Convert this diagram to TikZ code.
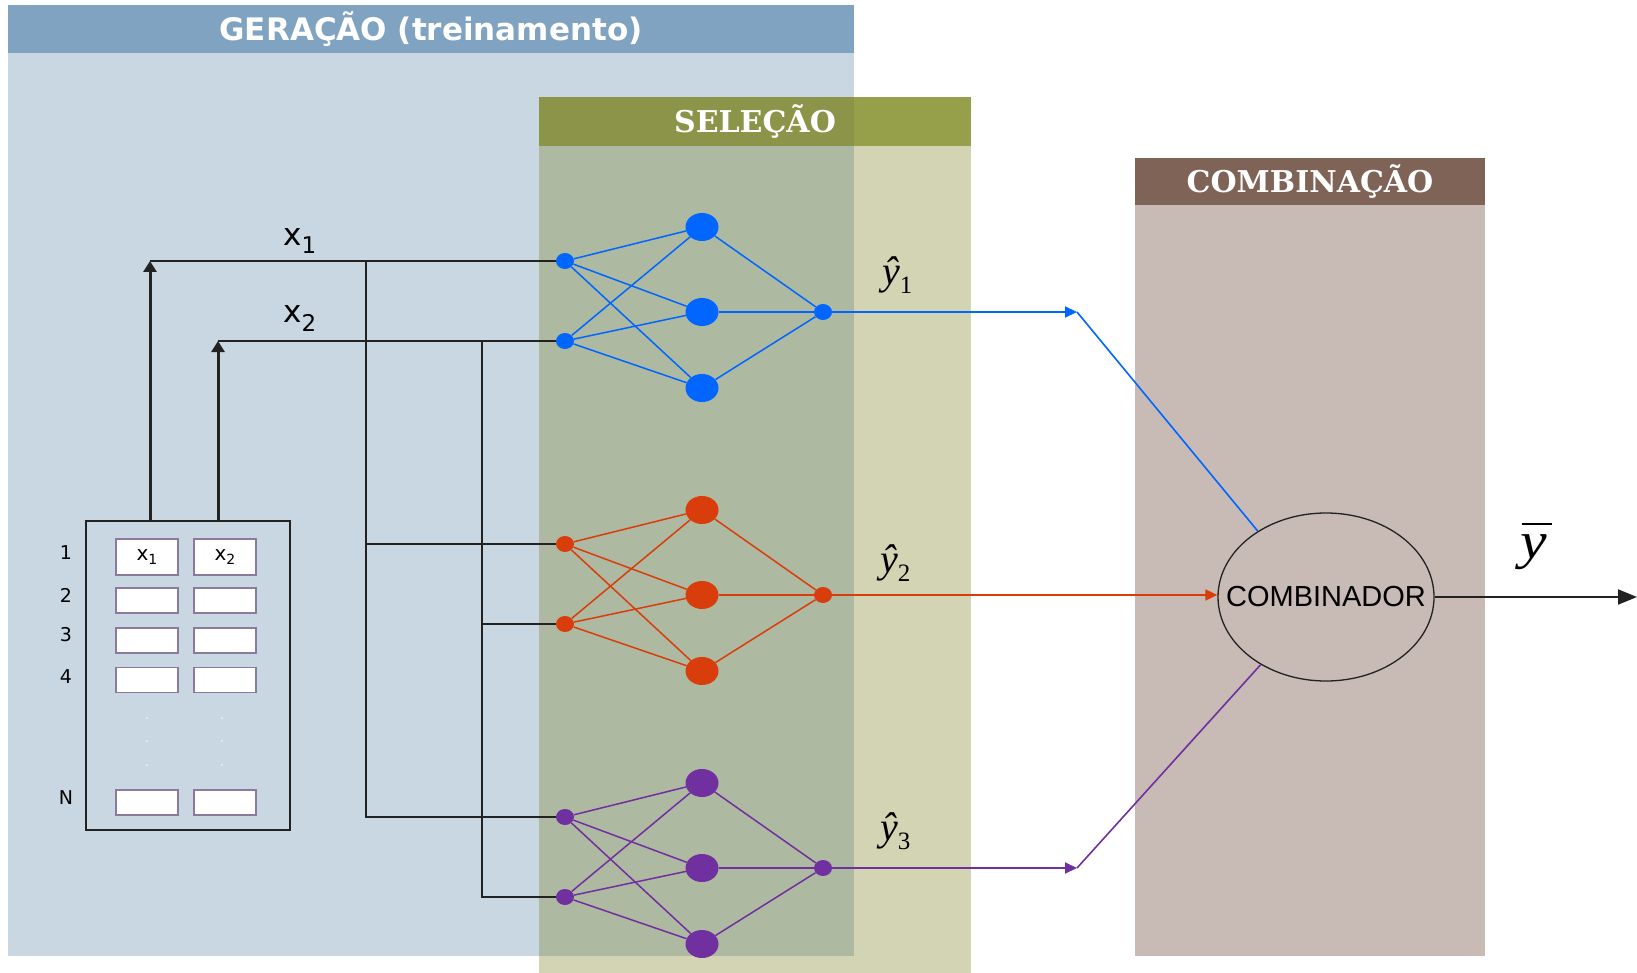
\documentclass[tikz,border=0pt]{standalone}
\usepackage{fontspec}
\usepackage{graphicx}
\setmainfont{Liberation Serif}
\newfontfamily\vsans{DejaVu Sans}
\newfontfamily\vserif{DejaVu Serif}
\newfontfamily\asans{Liberation Sans}
\usetikzlibrary{shapes.geometric,arrows.meta}

\definecolor{gerHead}{HTML}{7FA3C1}
\definecolor{gerBody}{HTML}{C9D7E2}
\definecolor{selHead}{HTML}{96A04B}
\definecolor{selHeadDark}{HTML}{8B9449}
\definecolor{selBody}{HTML}{D3D4B3}
\definecolor{selBodyDark}{HTML}{ADB9A0}
\definecolor{comHead}{HTML}{7F6357}
\definecolor{comBody}{HTML}{C8BAB5}
\definecolor{annBlue}{HTML}{0066FF}
\definecolor{annRed}{HTML}{D93D0C}
\definecolor{annPurple}{HTML}{7030A0}
\definecolor{cellEdge}{HTML}{8C7A9E}
\definecolor{wire}{HTML}{222222}

\newcommand{\fsz}[1]{\fontsize{#1}{#1}\selectfont}

% one small network: two inputs, three hidden units, one output
\newcommand{\drawnet}[3]{%
  \node[innode,fill=#3] (#1i1) at (565,#2) {};
  \node[innode,fill=#3] (#1i2) at (565,#2+80) {};
  \node[hidnode,fill=#3] (#1h1) at (702,#2-34) {};
  \node[hidnode,fill=#3] (#1h2) at (702,#2+51) {};
  \node[hidnode,fill=#3] (#1h3) at (702,#2+127) {};
  \node[innode,fill=#3] (#1o) at (823,#2+51) {};
  \foreach \ii in {1,2}{\foreach \hh in {1,2,3}{\draw[annedge,#3] (#1i\ii) -- (#1h\hh);}}
  \foreach \hh in {1,2,3}{\draw[annedge,#3] (#1h\hh) -- (#1o);}
}

\tikzset{
  headtext/.style={text=white, inner sep=0pt},
  wireline/.style={draw=wire, line width=2.2pt},
  feedarrow/.style={draw=wire, line width=3pt, -{Triangle[width=13pt,length=11pt]}},
  innode/.style={ellipse, minimum width=18pt, minimum height=16pt, inner sep=0pt},
  hidnode/.style={ellipse, minimum width=33pt, minimum height=28pt, inner sep=0pt},
  annedge/.style={line width=1.5pt},
  outarrow/.style={line width=1.9pt, -{Triangle[width=11pt,length=12pt]}},
  outline/.style={line width=1.6pt},
  cell/.style={draw=cellEdge, fill=white, line width=1.8pt, minimum width=62pt, minimum height=25pt, inner sep=0pt},
  rowlab/.style={font=\vsans\fsz{19}, inner sep=0pt},
  yhat/.style={anchor=base west, inner sep=0pt},
}

\begin{document}
\begin{tikzpicture}[x=1pt,y=-1pt]
\useasboundingbox (0,0) rectangle (1637,973);

% panels
\fill[gerBody] (8,5) rectangle (854,956);
\fill[gerHead] (8,5) rectangle (854,53);
\fill[selBody] (539,97) rectangle (971,973);
\fill[selBodyDark] (539,146) rectangle (854,956);
\fill[selHead] (539,97) rectangle (971,146);
\fill[selHeadDark] (539,97) rectangle (854,146);
\fill[comBody] (1135,158) rectangle (1485,956);
\fill[comHead] (1135,158) rectangle (1485,205);

\node[headtext, font=\vsans\bfseries\fsz{31}] (hger) at (431,29) {GERAÇÃO (treinamento)};
\node[headtext, font=\vserif\bfseries\fsz{30}] (hsel) at (755,122) {SELEÇÃO};
\node[headtext, font=\vserif\bfseries\fsz{30}] (hcom) at (1310,182) {COMBINAÇÃO};

% data table
\node[draw=wire, line width=2pt, minimum width=204pt, minimum height=309pt, inner sep=0pt] (tbl) at (188,675.5) {};
\node[cell, minimum height=36pt] (c11) at (147,557) {\vsans\fsz{20}x\raisebox{-4pt}{\fsz{14}1}};
\node[cell, minimum height=36pt] (c12) at (225,557) {\vsans\fsz{20}x\raisebox{-4pt}{\fsz{14}2}};
\node[cell] (c21) at (147,600.5) {};
\node[cell] (c22) at (225,600.5) {};
\node[cell] (c31) at (147,640.5) {};
\node[cell] (c32) at (225,640.5) {};
\node[cell] (c41) at (147,680) {};
\node[cell] (c42) at (225,680) {};
\node[cell] (cn1) at (147,802.5) {};
\node[cell] (cn2) at (225,802.5) {};
\node[rowlab] (r1) at (66,553) {1};
\node[rowlab] (r2) at (66,595) {2};
\node[rowlab] (r3) at (66,635) {3};
\node[rowlab] (r4) at (66,677) {4};
\node[rowlab] (rn) at (66,798) {N};
\foreach \yy in {718,741,765}{
  \fill[white, opacity=0.6] (147,\yy) circle (1.2);
  \fill[white, opacity=0.6] (222,\yy) circle (1.2);
}

% the three networks
\drawnet{b}{261}{annBlue}
\drawnet{r}{544}{annRed}
\drawnet{p}{817}{annPurple}

% feature wiring
\coordinate (a1) at (150,261);
\coordinate (a2) at (218,341);
\coordinate (t1) at (366,261);
\coordinate (t2) at (482,341);
\draw[feedarrow] (tbl.north -| a1) -- (a1);
\draw[feedarrow] (tbl.north -| a2) -- (a2);
\draw[wireline] (a1) -- (bi1);
\draw[wireline] (a2) -- (bi2);
\draw[wireline] (t1) |- (pi1);
\draw[wireline] (t1 |- ri1) -- (ri1);
\draw[wireline] (t2) |- (pi2);
\draw[wireline] (t2 |- ri2) -- (ri2);

\node[anchor=base west, inner sep=0pt] (lx1) at (283,246) {\vsans\fsz{31}x\raisebox{-8pt}{\fsz{23}1}};
\node[anchor=base west, inner sep=0pt] (lx2) at (283,323) {\vsans\fsz{31}x\raisebox{-9pt}{\fsz{23}2}};

% combiner
\node[ellipse, draw=wire, line width=1.3pt, minimum width=216pt, minimum height=168pt, inner sep=0pt] (comb) at (1326,597) {};
\node[font=\asans\fsz{29}, inner sep=0pt] (combtxt) at (comb.center) {COMBINADOR};

\coordinate (bb) at (1077,312);
\coordinate (pb) at (1077,868);
\draw[outarrow, annBlue] (bo) -- (bb);
\draw[outline, annBlue] (bb) -- (comb.136);
\draw[outarrow, annRed] (ro) -- (ro -| comb.west);
\draw[outarrow, annPurple] (po) -- (pb);
\draw[outline, annPurple] (pb) -- (comb.226);

\coordinate (yend) at (1637,597);
\draw[draw=wire, line width=2pt, -{Triangle[width=15pt,length=19pt]}] (comb.east) -- (yend);

% output labels
\node[yhat] (yh1) at (882,285) {{\fsz{40}\itshape ŷ}\raisebox{-9pt}{\fsz{25}1}};
\node[yhat] (yh2) at (880,572) {{\fsz{40}\itshape ŷ}\raisebox{-9pt}{\fsz{25}2}};
\node[yhat] (yh3) at (880,840) {{\fsz{40}\itshape ŷ}\raisebox{-9pt}{\fsz{25}3}};
\node[anchor=base west, inner sep=0pt] (ybar) at (1520,558)
  {\makebox[0pt][l]{\raisebox{33pt}{\kern2pt\rule{30pt}{2.4pt}}}\scalebox{1.15}[1]{\fsz{52}\itshape y}};
\end{tikzpicture}
\end{document}
